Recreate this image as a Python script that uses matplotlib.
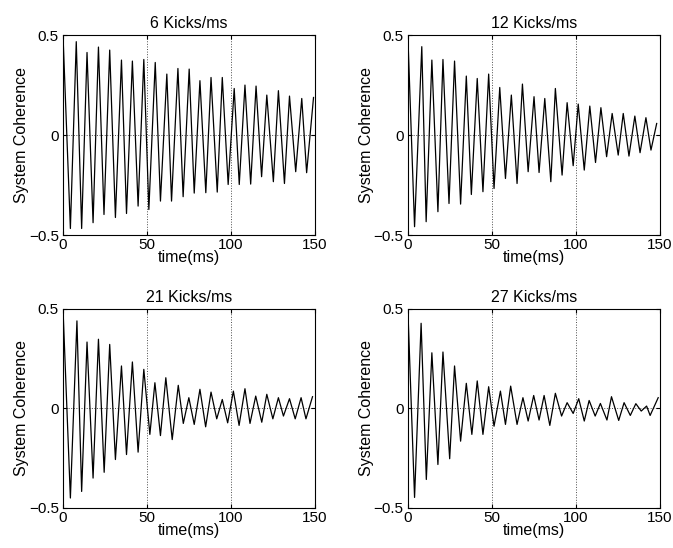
import numpy as np
import matplotlib
matplotlib.use("Agg")
import matplotlib.pyplot as plt

plt.rcParams['font.family'] = ['Liberation Sans', 'DejaVu Sans']
plt.rcParams['font.size'] = 11.5

# valeurs : maxima et minima de chaque courbe
titles = ['6 Kicks/ms', '12 Kicks/ms', '21 Kicks/ms', '27 Kicks/ms']

peak_t_6 = [0, 7.9, 14.3, 21.1, 27.8, 34.8, 41.3, 48.1, 54.9, 61.8, 68.4, 75.1, 81.5, 88.1, 94.8,
            101.9, 108.3, 114.9, 121.3, 128.2, 134.8, 142.1, 149.1]
peak_v_6 = [0.5, 0.467, 0.413, 0.44, 0.425, 0.375, 0.37, 0.378, 0.363, 0.305, 0.333, 0.33, 0.272,
            0.288, 0.288, 0.233, 0.25, 0.245, 0.2, 0.222, 0.195, 0.183, 0.188]
trough_t_6 = [4.4, 11.1, 17.9, 24.4, 31.2, 37.8, 44.7, 51.1, 58.0, 64.6, 71.5, 78.1, 85.0, 91.8,
              98.3, 104.9, 111.7, 118.2, 125.2, 131.8, 138.5, 145.0]
trough_v_6 = [-0.467, -0.467, -0.438, -0.397, -0.412, -0.392, -0.355, -0.372, -0.33, -0.33, -0.308,
              -0.29, -0.288, -0.285, -0.247, -0.247, -0.245, -0.208, -0.233, -0.242, -0.183, -0.188]

peak_t_12 = [0, 8.3, 14.3, 20.9, 27.8, 34.8, 41.3, 48.1, 54.7, 61.6, 68.2, 75.1, 81.5, 87.8, 94.8,
             101.4, 108.3, 114.9, 121.6, 128.2, 135.1, 141.7, 148.1]
peak_v_12 = [0.5, 0.442, 0.375, 0.378, 0.37, 0.295, 0.283, 0.305, 0.238, 0.2, 0.255, 0.192, 0.183,
             0.233, 0.162, 0.155, 0.145, 0.137, 0.108, 0.108, 0.095, 0.087, 0.058]
trough_t_12 = [4.0, 10.9, 17.9, 24.5, 31.4, 37.8, 44.7, 51.3, 58.1, 65.0, 71.6, 78.1, 85.1, 91.8,
               98.4, 105.0, 111.7, 118.3, 125.2, 131.6, 138.2, 144.7]
trough_v_12 = [-0.458, -0.433, -0.383, -0.342, -0.345, -0.297, -0.283, -0.267, -0.217, -0.242, -0.183,
               -0.187, -0.233, -0.2, -0.153, -0.175, -0.137, -0.108, -0.1, -0.105, -0.088, -0.075]

peak_t_21 = [0, 8.3, 14.3, 21.1, 27.8, 34.8, 41.3, 48.1, 54.7, 61.2, 68.6, 74.9, 81.5, 88.1, 94.8,
             101.4, 108.3, 114.7, 121.3, 128.2, 134.8, 141.7, 148.5]
peak_v_21 = [0.5, 0.438, 0.332, 0.346, 0.32, 0.212, 0.232, 0.195, 0.128, 0.153, 0.115, 0.053, 0.095,
             0.081, 0.044, 0.086, 0.098, 0.061, 0.07, 0.053, 0.048, 0.053, 0.058]
trough_t_21 = [4.4, 11.1, 17.9, 24.5, 31.2, 37.8, 44.7, 51.7, 58.0, 65.0, 71.6, 78.1, 84.9, 91.5,
               98.0, 104.8, 111.3, 118.3, 124.9, 131.2, 138.2, 144.6]
trough_v_21 = [-0.45, -0.417, -0.35, -0.321, -0.257, -0.232, -0.22, -0.131, -0.137, -0.157, -0.076,
               -0.081, -0.093, -0.053, -0.073, -0.086, -0.076, -0.07, -0.053, -0.039, -0.053, -0.053]

peak_t_27 = [0, 7.9, 14.3, 20.9, 27.8, 34.8, 41.3, 48.1, 55.1, 61.2, 68.5, 74.9, 81.1, 87.8, 94.8,
             101.7, 107.9, 114.6, 121.2, 128.7, 135.7, 142.1, 149.0]
peak_v_27 = [0.5, 0.426, 0.278, 0.282, 0.212, 0.125, 0.137, 0.108, 0.086, 0.111, 0.053, 0.064, 0.064,
             0.075, 0.028, 0.048, 0.039, 0.024, 0.058, 0.028, 0.023, 0.011, 0.053]
trough_t_27 = [4.0, 11.0, 17.9, 24.9, 31.4, 38.1, 44.7, 51.3, 58.1, 65.0, 71.6, 78.1, 84.5, 91.5,
               98.4, 105.0, 111.5, 118.5, 125.5, 132.4, 138.9, 144.2]
trough_v_27 = [-0.447, -0.357, -0.282, -0.253, -0.165, -0.131, -0.131, -0.09, -0.081, -0.081, -0.064,
               -0.059, -0.086, -0.039, -0.026, -0.064, -0.039, -0.059, -0.061, -0.036, -0.014, -0.036]

series = [
    (peak_t_6, peak_v_6, trough_t_6, trough_v_6),
    (peak_t_12, peak_v_12, trough_t_12, trough_v_12),
    (peak_t_21, peak_v_21, trough_t_21, trough_v_21),
    (peak_t_27, peak_v_27, trough_t_27, trough_v_27),
]

fig = plt.figure(figsize=(6.73, 5.48), dpi=100)

# positions des axes (fraction de la figure)
positions = [
    [0.0936, 0.571, 0.3745, 0.365],
    [0.606, 0.571, 0.3745, 0.365],
    [0.0936, 0.073, 0.3745, 0.364],
    [0.606, 0.073, 0.3745, 0.364],
]

for pos, title, (pt, pv, tt, tv) in zip(positions, titles, series):
    ax = fig.add_axes(pos)
    # on fusionne maxima et minima dans l'ordre du temps
    t = np.concatenate([pt, tt])
    v = np.concatenate([pv, tv])
    order = np.argsort(t)
    ax.plot(t[order], v[order], color='k', linewidth=0.9)

    ax.set_xlim(0, 150)
    ax.set_ylim(-0.5, 0.5)
    ax.set_xticks([0, 50, 100, 150])
    ax.set_yticks([-0.5, 0, 0.5])
    ax.set_yticklabels(['\u22120.5', '0', '0.5'])
    ax.grid(True, linestyle=':', color='0.3', linewidth=0.7)
    ax.tick_params(direction='in', top=True, right=True, length=3, labelsize=11)
    ax.tick_params(axis='x', pad=2)
    ax.tick_params(axis='y', pad=3)
    for sp in ax.spines.values():
        sp.set_linewidth(0.8)
    ax.set_title(title, fontsize=11.5, pad=5)
    ax.set_xlabel('time(ms)', fontsize=11.5, labelpad=-1)
    ax.set_ylabel('System Coherence', fontsize=11.5, labelpad=0)

plt.savefig('out.png', dpi=100)
